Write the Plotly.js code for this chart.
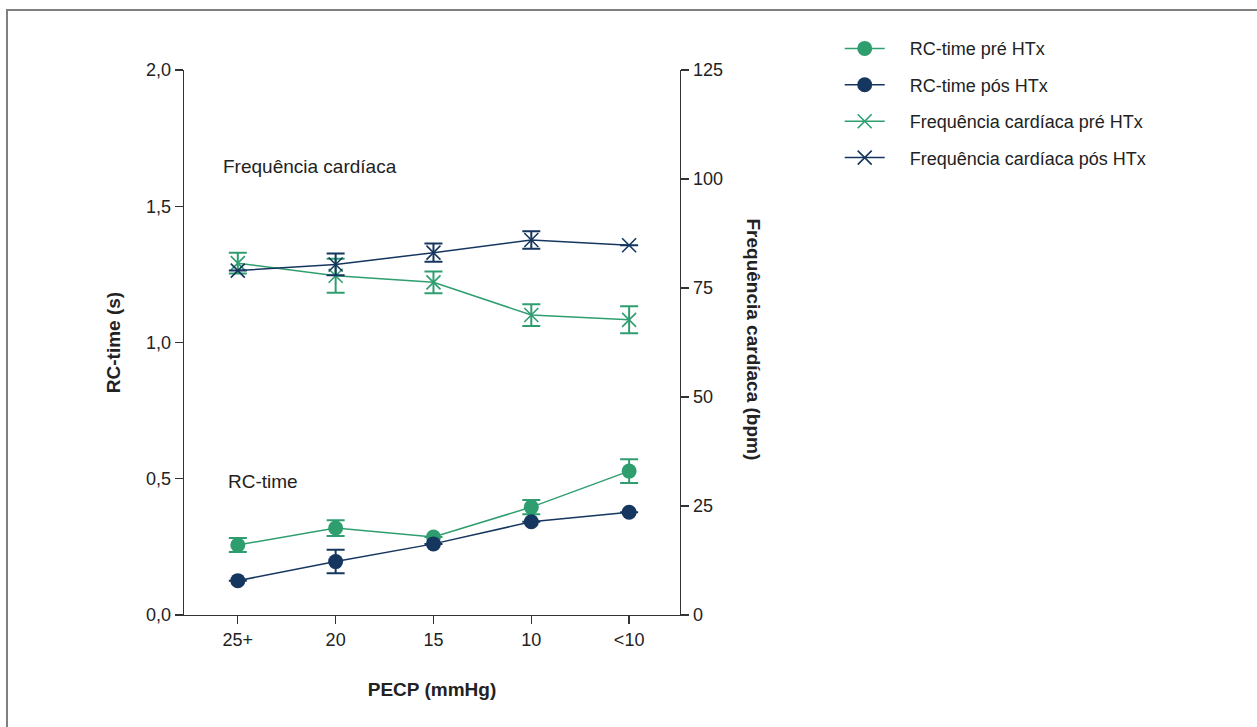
<!DOCTYPE html>
<html>
<head>
<meta charset="utf-8">
<script src="https://cdn.plot.ly/plotly-3.0.1.min.js"></script>
<style>
  html, body { margin: 0; padding: 0; background: #fff; }
  #frame { position: absolute; left: 6px; top: 9px; width: 1400px; height: 900px; border: 2px solid #7f7f7f; box-sizing: border-box; }
  #chart { position: absolute; left: 0; top: 0; width: 1257px; height: 727px; }
</style>
</head>
<body>
<div id="frame"></div>
<div id="chart"></div>
<script>
// categories
const categories = ["25+", "20", "15", "10", "<10"];
// RC-time (s)
const rcPre = [0.257, 0.319, 0.286, 0.396, 0.528];
const rcPreErr = [0.026, 0.029, 0.0, 0.026, 0.044];
const rcPos = [0.126, 0.196, 0.261, 0.342, 0.377];
const rcPosErr = [0.0, 0.043, 0.0, 0.0, 0.0];
// Heart rate (bpm)
const hrPre = [80.7, 77.8, 76.3, 68.8, 67.7];
const hrPreErr = [2.4, 3.9, 2.5, 2.5, 3.1];
const hrPos = [79.0, 80.4, 83.1, 86.0, 84.8];
const hrPosErr = [0.0, 2.5, 2.1, 2.0, 0.0];
// tick labels
const leftTicks = [0, 0.5, 1.0, 1.5, 2.0];
const leftTickText = ["0,0", "0,5", "1,0", "1,5", "2,0"];
const rightTicks = [0, 25, 50, 75, 100, 125];
// series names
const seriesNames = ["RC-time pré HTx", "RC-time pós HTx", "Frequência cardíaca pré HTx", "Frequência cardíaca pós HTx"];

const GREEN = "#2f9e6f";
const NAVY = "#15365f";
const FONT = "Liberation Sans Narrow, Arial Narrow, Liberation Sans, Arial, sans-serif";
const idx = categories.map((c, i) => i);
const pad = "\u00a0\u00a0\u00a0\u00a0";

const traces = [
  {
    x: idx, y: rcPre, name: pad + seriesNames[0], type: "scatter", mode: "lines+markers",
    line: {color: GREEN, width: 1.5}, marker: {color: GREEN, size: 15, symbol: "circle"},
    error_y: {type: "data", array: rcPreErr, visible: true, color: GREEN, thickness: 2, width: 9},
    legendgroup: "a"
  },
  {
    x: idx, y: rcPos, name: pad + seriesNames[1], type: "scatter", mode: "lines+markers",
    line: {color: NAVY, width: 1.5}, marker: {color: NAVY, size: 15, symbol: "circle"},
    error_y: {type: "data", array: rcPosErr, visible: true, color: NAVY, thickness: 2, width: 9},
    legendgroup: "b"
  },
  {
    x: idx, y: hrPre, name: pad + seriesNames[2], type: "scatter", mode: "lines+markers", yaxis: "y2",
    line: {color: GREEN, width: 1.5}, marker: {color: GREEN, size: 14, symbol: "x-thin-open", line: {color: GREEN, width: 1.6}},
    error_y: {type: "data", array: hrPreErr, visible: true, color: GREEN, thickness: 2, width: 9},
    legendgroup: "c"
  },
  {
    x: idx, y: hrPos, name: pad + seriesNames[3], type: "scatter", mode: "lines+markers", yaxis: "y2",
    line: {color: NAVY, width: 1.5}, marker: {color: NAVY, size: 14, symbol: "x-thin-open", line: {color: NAVY, width: 1.6}},
    error_y: {type: "data", array: hrPosErr, visible: true, color: NAVY, thickness: 2, width: 9},
    legendgroup: "d"
  }
];

const layout = {
  width: 1257, height: 727,
  margin: {l: 184, r: 577, t: 70, b: 112},
  paper_bgcolor: "rgba(0,0,0,0)", plot_bgcolor: "rgba(0,0,0,0)",
  font: {family: FONT, size: 18, color: "#222"},
  showlegend: true,
  legend: {
    x: 1.322, y: 1.073, xanchor: "left", yanchor: "top",
    font: {family: FONT, size: 18, color: "#222"},
    tracegroupgap: 10, itemwidth: 40, bgcolor: "rgba(0,0,0,0)"
  },
  xaxis: {
    range: [-0.55, 4.52], tickvals: idx, ticktext: categories,
    showline: true, linecolor: "#333", linewidth: 1.3, ticks: "outside", ticklen: 8, tickcolor: "#333", tickwidth: 1.3,
    showgrid: false, zeroline: false, fixedrange: true,
    title: {text: "<b>PECP (mmHg)</b>", font: {family: FONT, size: 19, color: "#222"}, standoff: 33}
  },
  yaxis: {
    range: [0, 2.0], tickvals: leftTicks, ticktext: leftTickText,
    showline: true, linecolor: "#333", linewidth: 1.3, ticks: "outside", ticklen: 8, tickcolor: "#333", tickwidth: 1.3,
    showgrid: false, zeroline: false,
    title: {text: "<b>RC-time (s)</b>", font: {family: FONT, size: 19, color: "#222"}, standoff: 20}
  },
  yaxis2: {
    range: [0, 125], tickvals: rightTicks, overlaying: "y", side: "right",
    showline: true, linecolor: "#333", linewidth: 1.3, ticks: "outside", ticklen: 8, tickcolor: "#333", tickwidth: 1.3,
    showgrid: false, zeroline: false
  },
  annotations: [
    {text: "<b>Frequência cardíaca (bpm)</b>", xref: "paper", yref: "paper", x: 1.173, y: 0.505, textangle: 90,
     showarrow: false, font: {family: FONT, size: 19, color: "#222"}},
    {text: "Frequência cardíaca", xref: "paper", yref: "paper", x: (221-184)/496, y: (615-166)/545, xanchor: "left", yanchor: "middle",
     showarrow: false, font: {family: FONT, size: 19, color: "#222"}},
    {text: "RC-time", xref: "paper", yref: "paper", x: (226-184)/496, y: (615-481)/545, xanchor: "left", yanchor: "middle",
     showarrow: false, font: {family: FONT, size: 19, color: "#222"}}
  ]
};

Plotly.newPlot("chart", traces, layout, {displayModeBar: false, staticPlot: true});
</script>
</body>
</html>
